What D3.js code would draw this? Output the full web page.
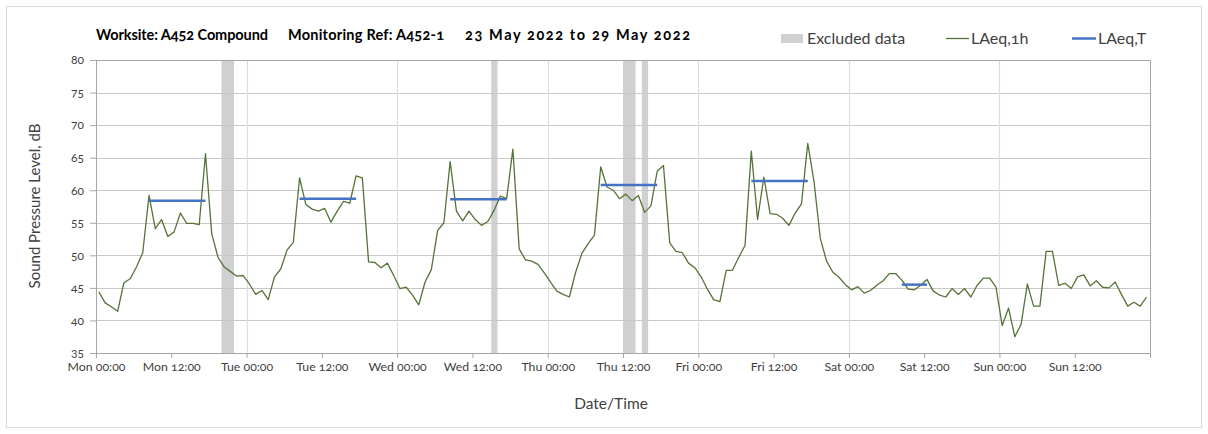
<!DOCTYPE html>
<html>
<head>
<meta charset="utf-8">
<script src="https://cdn.jsdelivr.net/npm/d3@7"></script>
<style>
  body { margin: 0; background: #fff; }
  svg { font-family: Lato, "Open Sans", sans-serif; font-variant-numeric: oldstyle-nums; }
</style>
</head>
<body>
<svg id="chart"></svg>
<script>
// hourly LAeq,1h, Mon 00:00 .. Sun 23:00
var laeq1h = [
  44.4, 42.7, 42.1, 41.4, 45.8, 46.4, 48.2, 50.4, 59.2, 54.1, 55.5, 52.9,
  53.6, 56.5, 54.9, 54.9, 54.7, 65.6, 53.3, 49.7, 48.2, 47.5, 46.8, 46.9,
  45.6, 44.0, 44.6, 43.2, 46.7, 47.9, 50.8, 52.0, 61.9, 57.8, 57.1, 56.8,
  57.2, 55.1, 56.8, 58.3, 58.0, 62.2, 61.9, 49.0, 48.9, 48.1, 48.8, 46.9,
  44.9, 45.1, 43.9, 42.4, 45.9, 47.8, 53.8, 55.0, 64.4, 56.8, 55.3, 56.8,
  55.5, 54.6, 55.2, 56.9, 59.1, 58.7, 66.3, 51.0, 49.3, 49.1, 48.6, 47.3,
  45.9, 44.5, 44.0, 43.6, 47.4, 50.3, 51.8, 53.1, 63.6, 60.5, 60.0, 58.7,
  59.4, 58.4, 59.2, 56.6, 57.6, 62.9, 63.8, 51.9, 50.6, 50.4, 48.8, 48.1,
  46.7, 44.8, 43.2, 42.9, 47.7, 47.7, 49.7, 51.5, 66.0, 55.5, 62.0, 56.4,
  56.3, 55.7, 54.6, 56.5, 57.9, 67.2, 61.3, 52.6, 49.1, 47.4, 46.6, 45.5,
  44.7, 45.2, 44.2, 44.6, 45.4, 46.1, 47.2, 47.2, 46.2, 44.8, 44.7, 45.4,
  46.3, 44.5, 43.9, 43.6, 44.9, 44.0, 44.9, 43.6, 45.4, 46.5, 46.5, 45.1,
  39.2, 41.9, 37.5, 39.4, 45.6, 42.2, 42.2, 50.6, 50.6, 45.4, 45.7, 44.9,
  46.7, 47.0, 45.3, 46.1, 45.1, 45.0, 45.9, 44.0, 42.2, 42.8, 42.2, 43.6
];

// LAeq,T periods: first hour, last hour, level
var periodStart = [8, 32, 56, 80, 104, 128];
var periodEnd   = [17, 41, 65, 89, 113, 132];
var periodLevel = [58.4, 58.7, 58.6, 60.8, 61.4, 45.5];

// excluded data, hours from Mon 00:00
var exclFrom = [20, 63, 84, 87];
var exclTo   = [22, 64, 86, 88];

var tickLabels = ["Mon 00:00", "Mon 12:00", "Tue 00:00", "Tue 12:00", "Wed 00:00",
  "Wed 12:00", "Thu 00:00", "Thu 12:00", "Fri 00:00", "Fri 12:00", "Sat 00:00",
  "Sat 12:00", "Sun 00:00", "Sun 12:00", ""];
var yTicks = [35, 40, 45, 50, 55, 60, 65, 70, 75, 80];

var W = 1208, H = 434;
var margin = {left: 96, right: 58, top: 60, bottom: 81};
var plotW = W - margin.left - margin.right;
var plotH = H - margin.top - margin.bottom;

var svg = d3.select("#chart").attr("width", W).attr("height", H);

// outer chart border
svg.append("rect")
  .attr("x", 6.5).attr("y", 6.5).attr("width", 1195).attr("height", 421)
  .attr("fill", "#fff").attr("stroke", "#d9d9d9");

var x = d3.scaleLinear().domain([0, 168]).range([0, plotW]);
var y = d3.scaleLinear().domain([35, 80]).range([plotH, 0]);

var g = svg.append("g").attr("transform", "translate(" + margin.left + "," + margin.top + ")");

// excluded bands
g.selectAll("rect.excl")
  .data(exclFrom)
  .enter().append("rect")
  .attr("class", "excl")
  .attr("x", function(d) { return x(d); })
  .attr("width", function(d, i) { return x(exclTo[i]) - x(d); })
  .attr("y", 0).attr("height", plotH)
  .attr("fill", "#d0d0d0");

// horizontal gridlines
g.selectAll("line.hg")
  .data(yTicks.slice(1, -1))
  .enter().append("line")
  .attr("class", "hg")
  .attr("x1", 0).attr("x2", plotW)
  .attr("y1", function(d) { return Math.round(y(d)) + 0.5; })
  .attr("y2", function(d) { return Math.round(y(d)) + 0.5; })
  .attr("stroke", "#c8c8c8").attr("stroke-width", 1.2);

// vertical day gridlines
g.selectAll("line.vg")
  .data(d3.range(24, 168, 24))
  .enter().append("line")
  .attr("class", "vg")
  .attr("x1", function(d) { return Math.round(x(d)) + 0.5; })
  .attr("x2", function(d) { return Math.round(x(d)) + 0.5; })
  .attr("y1", 0).attr("y2", plotH)
  .attr("stroke", "#dedede").attr("stroke-width", 1.2);

// plot area top/right edge
g.append("path")
  .attr("d", "M0,0.5H" + (plotW + 0.5) + "V" + plotH)
  .attr("fill", "none").attr("stroke", "#a6a6a6");

// axes
var xAxis = d3.axisBottom(x)
  .tickValues(d3.range(0, 169, 12))
  .tickSize(5)
  .tickFormat(function(d, i) { return tickLabels[i]; });
var gx = g.append("g").attr("transform", "translate(0," + plotH + ")").call(xAxis);
gx.select(".domain").attr("stroke", "#a6a6a6");
gx.selectAll(".tick line").attr("stroke", "#a6a6a6");
gx.selectAll("text").attr("fill", "#404040").attr("font-size", 12.3).attr("dy", "0.85em");
gx.attr("font-family", null);

var yAxis = d3.axisLeft(y).tickValues(yTicks).tickSize(6).tickPadding(6);
var gy = g.append("g").call(yAxis);
gy.select(".domain").attr("stroke", "#a6a6a6");
gy.selectAll(".tick line").attr("stroke", "#a6a6a6");
gy.selectAll("text").attr("fill", "#404040").attr("font-size", 12);
gy.attr("font-family", null);

// LAeq,1h line
var line = d3.line()
  .x(function(d, i) { return x(i + 0.45); })
  .y(function(d) { return y(d); });
g.append("path")
  .datum(laeq1h)
  .attr("d", line)
  .attr("fill", "none")
  .attr("stroke", "#557336")
  .attr("stroke-width", 1.3)
  .attr("stroke-linejoin", "round");

// LAeq,T lines
g.selectAll("line.laeqT")
  .data(periodLevel)
  .enter().append("line")
  .attr("class", "laeqT")
  .attr("x1", function(d, i) { return x(periodStart[i] + 0.45); })
  .attr("x2", function(d, i) { return x(periodEnd[i] + 0.45); })
  .attr("y1", function(d) { return y(d); })
  .attr("y2", function(d) { return y(d); })
  .attr("stroke", "#4472c4").attr("stroke-width", 2.5);

// title
var title = svg.append("g").attr("font-weight", "bold").attr("font-size", 14.5).attr("fill", "#000");
title.append("text").attr("x", 96).attr("y", 40).text("Worksite: A452 Compound")
  .attr("textLength", 172).attr("lengthAdjust", "spacing");
title.append("text").attr("x", 288).attr("y", 40).text("Monitoring Ref: A452-1")
  .attr("textLength", 156).attr("lengthAdjust", "spacing");
title.append("text").attr("x", 465).attr("y", 40).text("23 May 2022 to 29 May 2022")
  .attr("textLength", 225).attr("lengthAdjust", "spacing");

// legend
var lg = svg.append("g").attr("font-size", 16).attr("fill", "#404040");
lg.append("rect").attr("x", 781).attr("y", 34).attr("width", 22).attr("height", 9).attr("fill", "#d0d0d0");
lg.append("text").attr("x", 807).attr("y", 44).text("Excluded data");
lg.append("line").attr("x1", 946).attr("x2", 969).attr("y1", 38.5).attr("y2", 38.5)
  .attr("stroke", "#557336").attr("stroke-width", 1.3);
lg.append("text").attr("x", 971).attr("y", 44).text("LAeq,1h");
lg.append("line").attr("x1", 1072).attr("x2", 1096).attr("y1", 38.5).attr("y2", 38.5)
  .attr("stroke", "#4472c4").attr("stroke-width", 2.5);
lg.append("text").attr("x", 1098).attr("y", 44).text("LAeq,T");

// axis titles
svg.append("text")
  .attr("x", 611).attr("y", 409)
  .attr("text-anchor", "middle").attr("font-size", 15.5).attr("fill", "#404040")
  .text("Date/Time");
svg.append("text")
  .attr("transform", "translate(40,206) rotate(-90)")
  .attr("text-anchor", "middle").attr("font-size", 15).attr("fill", "#404040")
  .text("Sound Pressure Level, dB");
</script>
</body>
</html>
